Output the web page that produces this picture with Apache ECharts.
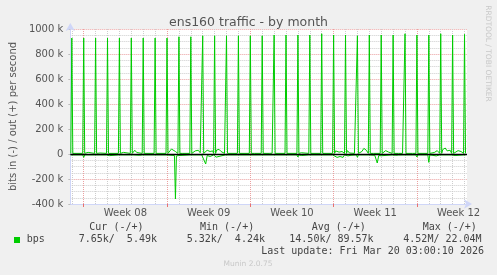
<!DOCTYPE html>
<html><head><meta charset="utf-8">
<script src="https://cdn.jsdelivr.net/npm/echarts@6/dist/echarts.min.js"></script>
<style>html,body{margin:0;padding:0;background:#F0F0F0;overflow:hidden}#c{width:497px;height:275px}</style>
</head><body><div id="c"></div>
<script>
// ---- data (values in k bits/s, time in hours from the left edge of the plot) ----
const titleText = 'ens160 traffic - by month';
const yAxisName = 'bits in (-) / out (+) per second';
const weekLabels = ['Week 08', 'Week 09', 'Week 10', 'Week 11', 'Week 12'];
const weekStartHours = [27, 195, 363, 531, 699];
const rangeHours = [0, 800];
const firstSpikeHour = 3;            // daily spike time (hours)
const outFloor = 5;                  // k, quiet level of "out"
const inFloor = -7;                  // k, quiet level of "in" (drawn negative)
// daily "out" spike heights, one per day
const outPeaks = [928, 928, 928, 928, 928, 928, 928, 928, 928, 938, 938, 946, 946, 946, 946, 946, 946,
                  952, 952, 952, 952, 962, 952, 952, 946, 952, 952, 952, 962, 952, 952, 962, 952, 957];
// "in" value at the time of each daily spike
const inAtPeaks = [-10, -27, -12, -20, -10, -14, -10, -12, -16, -12, -18, -20, -14, -12, -10, -14, -16,
                   -22, -14, -24, -16, -18, -12, -14, -26, -16, -14, -20, -18, -24, -67, -22, -14, -18];
// other "out" readings [hour, k]
const outNoise = [
  [32, 5], [36, 13], [40, 5], [56, 5], [60, 8], [64, 5],
  [104, 5], [107, 13], [110, 5], [127, 5], [130, 30], [134, 12], [138, 5],
  [199, 5], [204, 40], [208, 45], [212, 20], [215, 12], [223, 13], [227, 5],
  [247, 5], [252, 25], [258, 30], [262, 10], [271, 10], [276, 30], [282, 20], [287, 25],
  [295, 32], [300, 37], [304, 20], [308, 15], [311, 5], [367, 8], [371, 5],
  [401, 5], [404, 10], [407, 6], [464, 5], [466, 10], [470, 5],
  [535, 25], [542, 15], [548, 20], [551, 8], [559, 27], [563, 8], [573, 5], [575, 10],
  [584, 5], [588, 20], [592, 45], [597, 30], [607, 15], [611, 5],
  [632, 5], [636, 27], [642, 15], [646, 20], [662, 5], [666, 20], [670, 5],
  [683, 5], [686, 8], [690, 5], [729, 5], [734, 12], [740, 27], [743, 30],
  [751, 35], [756, 48], [760, 25], [766, 30], [776, 15], [782, 27], [788, 20], [791, 10]
];
// other "in" readings [hour, k]
const inNoise = [
  [79, -13], [83, -7], [128, -7], [132, -10], [140, -10], [143, -7],
  [210, -12], [212, -360], [214, -15], [270, -7], [273, -80], [276, -12], [282, -20], [286, -10],
  [294, -25], [298, -10], [466, -12], [469, -7],
  [534, -10], [538, -27], [544, -20], [550, -27], [560, -15], [566, -10],
  [614, -10], [619, -72], [622, -12], [656, -10], [658, -15], [662, -8],
  [738, -15], [742, -8], [776, -12], [780, -7]
];
const yTicks = {min: -400, max: 1000, step: 200};
// legend table
const legendHeaders = ['Cur (-/+)', 'Min (-/+)', 'Avg (-/+)', 'Max (-/+)'];
const legendName = 'bps';
const legendValues = ['7.65k/  5.49k', '5.32k/  4.24k', '14.50k/ 89.57k', '4.52M/ 22.04M'];
const lastUpdate = 'Last update: Fri Mar 20 03:00:10 2026';
const footer = 'Munin 2.0.75';
const watermark = 'RRDTOOL / TOBI OETIKER';

// ---- build ----
function build(floor, peaks, noise) {
  const pts = [];
  peaks.forEach((p, d) => {
    const h = firstSpikeHour + 24 * d;
    pts.push([h - 2, floor], [h, p], [h + 2, floor]);
  });
  noise.forEach(p => pts.push(p.slice()));
  pts.sort((a, b) => a[0] - b[0]);
  return pts;
}
const outData = build(outFloor, outPeaks, outNoise);
const inData = build(inFloor, inAtPeaks, inNoise);

const weekLabelPos = weekStartHours.map(h => h + 84);
const dayLines = [];
for (let h = firstSpikeHour; h < rangeHours[1]; h += 24) if (weekStartHours.indexOf(h) < 0) dayLines.push(h);

const FONT = 'DejaVu Sans';
const MONO = 'DejaVu Sans Mono';
const TXT = '#555555';
const GREEN = '#00CC00';
const RED_GRID = '#EBA0A0';
const GREY_GRID = '#CDCDCD';
const AXIS = '#CFD6F8';

const chart = echarts.init(document.getElementById('c'), null, {renderer: 'canvas'});
const colX = [89.3, 200, 311.7, 422.7];
const valX = [78.7, 186.7, 289.3, 403.3];
const graphics = [];
legendHeaders.forEach((t, i) => graphics.push({type: 'text', left: colX[i], top: 222,
  style: {text: t, font: '10px "' + MONO + '"', fill: '#444'}}));
graphics.push({type: 'rect', shape: {x: 14, y: 237, width: 6, height: 6}, style: {fill: GREEN}});
graphics.push({type: 'text', left: 26.7, top: 234, style: {text: legendName, font: '10px "' + MONO + '"', fill: '#444'}});
legendValues.forEach((t, i) => graphics.push({type: 'text', left: valX[i], top: 234,
  style: {text: t, font: '10px "' + MONO + '"', fill: '#444'}}));
graphics.push({type: 'text', left: 261.2, top: 246, style: {text: lastUpdate, font: '10px "' + MONO + '"', fill: '#444'}});
graphics.push({type: 'text', x: 248, y: 264, style: {text: footer, font: '7.5px "' + FONT + '"', fill: '#C8C8C8', align: 'center', verticalAlign: 'middle'}});
graphics.push({type: 'text', x: 488, y: 53.5, rotation: -Math.PI / 2,
  style: {text: watermark, font: '7.5px "' + FONT + '"', fill: '#C8C8C8', align: 'center', verticalAlign: 'middle'}});

chart.setOption({
  animation: false,
  backgroundColor: '#F0F0F0',
  title: {text: titleText, left: 'center', top: 11,
    textStyle: {fontFamily: FONT, fontSize: 12.5, fontWeight: 'normal', color: TXT}},
  grid: {left: 67, right: 30, top: 29, bottom: 71, show: true, backgroundColor: '#FFFFFF', borderWidth: 0},
  xAxis: [{
    type: 'value', min: rangeHours[0], max: rangeHours[1],
    axisLine: {onZero: false, lineStyle: {color: AXIS, width: 1}, symbol: ['none', 'arrow'], symbolSize: [7, 8], symbolOffset: [0, 5]},
    axisTick: {show: true, customValues: weekStartHours, length: 3, lineStyle: {color: '#E87070'}},
    axisLabel: {customValues: weekLabelPos, formatter: v => weekLabels[weekLabelPos.indexOf(v)] || '',
      color: TXT, fontFamily: FONT, fontSize: 10, margin: 4},
    splitLine: {show: true, lineStyle: {color: RED_GRID, type: [1, 1], width: 1}}
  }, {
    type: 'value', min: rangeHours[0], max: rangeHours[1], position: 'top',
    axisLine: {show: false}, axisLabel: {show: false},
    axisTick: {show: false, customValues: dayLines},
    splitLine: {show: true, lineStyle: {color: GREY_GRID, type: [1, 1], width: 1}}
  }],
  yAxis: {
    type: 'value', min: yTicks.min, max: yTicks.max, interval: yTicks.step,
    name: yAxisName, nameLocation: 'middle', nameGap: 50,
    nameTextStyle: {color: TXT, fontFamily: FONT, fontSize: 10},
    axisLine: {show: true, lineStyle: {color: AXIS, width: 1}, symbol: ['none', 'arrow'], symbolSize: [7, 8], symbolOffset: [0, 6]},
    axisTick: {show: true, length: 2, lineStyle: {color: '#BBBBBB'}},
    axisLabel: {formatter: v => v === 0 ? '0' : v + ' k', color: TXT, fontFamily: FONT, fontSize: 10, margin: 7},
    splitLine: {show: true, lineStyle: {color: RED_GRID, type: [1, 1], width: 1}},
    minorTick: {show: false, splitNumber: 4},
    minorSplitLine: {show: true, lineStyle: {color: GREY_GRID, type: [1, 1], width: 1}}
  },
  series: [{
    name: 'out', type: 'line', data: outData, showSymbol: false, symbol: 'none',
    lineStyle: {color: GREEN, width: 1}, z: 3
  }, {
    name: 'in', type: 'line', data: inData, showSymbol: false, symbol: 'none',
    lineStyle: {color: GREEN, width: 1}, z: 3,
    markLine: {silent: true, symbol: 'none', label: {show: false}, z: 4,
      lineStyle: {color: '#000000', width: 1.3, type: 'solid'}, data: [{yAxis: 0}]}
  }],
  graphic: graphics
});
</script></body></html>
